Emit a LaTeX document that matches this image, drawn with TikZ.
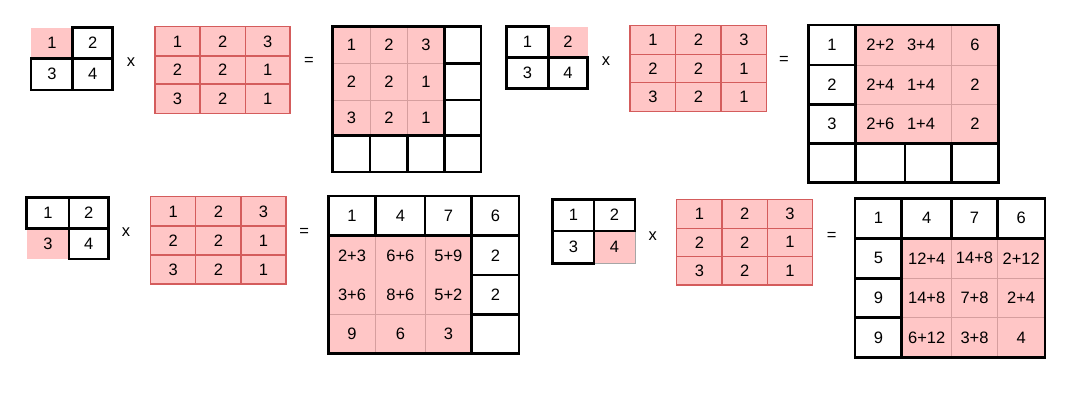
\documentclass[tikz,border=0pt]{standalone}
\usepackage{fontspec}
\setmainfont{Liberation Sans}
\definecolor{pinkfill}{RGB}{255,198,198}
\definecolor{redline}{RGB}{212,92,92}
\definecolor{pinkgrid}{RGB}{214,158,158}
\newcommand{\mkcell}[7]{%
  \node[#2, minimum width={(#4)-(#3)}, minimum height={(#6)-(#5)}] (#1) at ({((#3)+(#4))/2},{((#5)+(#6))/2}) {#7};}
\tikzset{
  base/.style={rectangle, inner sep=0pt, outer sep=0pt, font=\fontsize{16.5}{19}\selectfont, text=black},
  wcell/.style={base, draw=black, line width=2.5pt, fill=white},
  scellp/.style={base, fill=pinkfill},
  rcell/.style={base, fill=pinkfill, draw=redline, line width=1.2pt},
  ecell/.style={base, fill=pinkfill},
  pgrid/.style={draw=pinkgrid, line width=0.8pt},
  frame/.style={draw=black, line width=2.5pt},
  op/.style={base}
}
\begin{document}
\begin{tikzpicture}[x=1pt,y=-1pt]
\useasboundingbox (0,0) rectangle (1075,408);
% ================= Panel A =================
\mkcell{sA11}{scellp}{31}{72.7}{27.7}{58.3}{1}
\mkcell{sA12}{wcell}{72.7}{112.7}{27.7}{58.3}{2}
\mkcell{sA21}{wcell}{31}{72.7}{58.3}{90}{3}
\mkcell{sA22}{wcell}{72.7}{112.7}{58.3}{90}{4}
\node[op] (xA) at (131,61.7) {x};
\mkcell{mA11}{rcell}{155}{200}{26.7}{56}{1}
\mkcell{mA12}{rcell}{200}{245.3}{26.7}{56}{2}
\mkcell{mA13}{rcell}{245.3}{290}{26.7}{56}{3}
\mkcell{mA21}{rcell}{155}{200}{56}{84}{2}
\mkcell{mA22}{rcell}{200}{245.3}{56}{84}{2}
\mkcell{mA23}{rcell}{245.3}{290}{56}{84}{1}
\mkcell{mA31}{rcell}{155}{200}{84}{113.3}{3}
\mkcell{mA32}{rcell}{200}{245.3}{84}{113.3}{2}
\mkcell{mA33}{rcell}{245.3}{290}{84}{113.3}{1}
\node[op] (eA) at (309,61.7) {=};
\mkcell{rA11}{ecell}{332.7}{370}{26.7}{63.3}{1}
\mkcell{rA12}{ecell}{370}{407.7}{26.7}{63.3}{2}
\mkcell{rA13}{ecell}{407.7}{444.3}{26.7}{63.3}{3}
\mkcell{rA21}{ecell}{332.7}{370}{63.3}{100}{2}
\mkcell{rA22}{ecell}{370}{407.7}{63.3}{100}{2}
\mkcell{rA23}{ecell}{407.7}{444.3}{63.3}{100}{1}
\mkcell{rA31}{ecell}{332.7}{370}{100}{135.7}{3}
\mkcell{rA32}{ecell}{370}{407.7}{100}{135.7}{2}
\mkcell{rA33}{ecell}{407.7}{444.3}{100}{135.7}{1}
\draw[pgrid] (rA11.north east) -- (rA31.south east);
\draw[pgrid] (rA12.north east) -- (rA32.south east);
\draw[pgrid] (rA11.south west) -- (rA13.south east);
\draw[pgrid] (rA21.south west) -- (rA23.south east);
\mkcell{rA14}{wcell}{444.3}{481}{26.7}{63.3}{}
\mkcell{rA24}{wcell}{444.3}{481}{63.3}{100}{}
\mkcell{rA34}{wcell}{444.3}{481}{100}{135.7}{}
\mkcell{rA41}{wcell}{332.7}{370}{135.7}{172}{}
\mkcell{rA42}{wcell}{370}{407.7}{135.7}{172}{}
\mkcell{rA43}{wcell}{407.7}{444.3}{135.7}{172}{}
\mkcell{rA44}{wcell}{444.3}{481}{135.7}{172}{}
\draw[frame] (rA11.north west) rectangle (rA44.south east);
% ================= Panel B =================
\mkcell{sB12}{scellp}{548.3}{587.7}{26.7}{57.3}{2}
\mkcell{sB11}{wcell}{506.7}{548.3}{26.7}{57.3}{1}
\mkcell{sB21}{wcell}{506.7}{548.3}{57.3}{88.3}{3}
\mkcell{sB22}{wcell}{548.3}{587.7}{57.3}{88.3}{4}
\node[op] (xB) at (606,60.7) {x};
\mkcell{mB11}{rcell}{630}{675.7}{25.7}{54.3}{1}
\mkcell{mB12}{rcell}{675.7}{721}{25.7}{54.3}{2}
\mkcell{mB13}{rcell}{721}{766.7}{25.7}{54.3}{3}
\mkcell{mB21}{rcell}{630}{675.7}{54.3}{82.7}{2}
\mkcell{mB22}{rcell}{675.7}{721}{54.3}{82.7}{2}
\mkcell{mB23}{rcell}{721}{766.7}{54.3}{82.7}{1}
\mkcell{mB31}{rcell}{630}{675.7}{82.7}{111.7}{3}
\mkcell{mB32}{rcell}{675.7}{721}{82.7}{111.7}{2}
\mkcell{mB33}{rcell}{721}{766.7}{82.7}{111.7}{1}
\node[op] (eB) at (784,60.3) {=};
\mkcell{rB12}{ecell}{855.7}{905}{25}{65}{2+2}
\mkcell{rB13}{ecell, text width=46.7pt, align=left}{905}{951.7}{25}{65}{\hspace*{2pt}3+4}
\mkcell{rB14}{ecell}{951.7}{998.3}{25}{65}{6}
\mkcell{rB22}{ecell}{855.7}{905}{65}{104.3}{2+4}
\mkcell{rB23}{ecell, text width=46.7pt, align=left}{905}{951.7}{65}{104.3}{\hspace*{2pt}1+4}
\mkcell{rB24}{ecell}{951.7}{998.3}{65}{104.3}{2}
\mkcell{rB32}{ecell}{855.7}{905}{104.3}{143.3}{2+6}
\mkcell{rB33}{ecell, text width=46.7pt, align=left}{905}{951.7}{104.3}{143.3}{\hspace*{2pt}1+4}
\mkcell{rB34}{ecell}{951.7}{998.3}{104.3}{143.3}{2}
\draw[pgrid] (rB12.south west) -- (rB14.south east);
\draw[pgrid] (rB22.south west) -- (rB24.south east);
\draw[pgrid] (rB13.north east) -- (rB33.south east);
\mkcell{rB11}{wcell}{808.3}{855.7}{25}{65}{1}
\mkcell{rB21}{wcell}{808.3}{855.7}{65}{104.3}{2}
\mkcell{rB31}{wcell}{808.3}{855.7}{104.3}{143.3}{3}
\mkcell{rB41}{wcell}{808.3}{855.7}{143.3}{182.7}{}
\mkcell{rB42}{wcell}{855.7}{905}{143.3}{182.7}{}
\mkcell{rB43}{wcell}{905}{951.7}{143.3}{182.7}{}
\mkcell{rB44}{wcell}{951.7}{998.3}{143.3}{182.7}{}
\draw[frame] (rB11.north west) rectangle (rB44.south east);
% ================= Panel C =================
\mkcell{sC21}{scellp}{26.7}{69}{228.3}{259}{3}
\mkcell{sC11}{wcell}{26.7}{69}{197.7}{228.3}{1}
\mkcell{sC12}{wcell}{69}{108.3}{197.7}{228.3}{2}
\mkcell{sC22}{wcell}{69}{108.3}{228.3}{259}{4}
\node[op] (xC) at (126,231.7) {x};
\mkcell{mC11}{rcell}{150.7}{195.7}{196.7}{226}{1}
\mkcell{mC12}{rcell}{195.7}{241}{196.7}{226}{2}
\mkcell{mC13}{rcell}{241}{286}{196.7}{226}{3}
\mkcell{mC21}{rcell}{150.7}{195.7}{226}{255}{2}
\mkcell{mC22}{rcell}{195.7}{241}{226}{255}{2}
\mkcell{mC23}{rcell}{241}{286}{226}{255}{1}
\mkcell{mC31}{rcell}{150.7}{195.7}{255}{284}{3}
\mkcell{mC32}{rcell}{195.7}{241}{255}{284}{2}
\mkcell{mC33}{rcell}{241}{286}{255}{284}{1}
\node[op] (eC) at (304.3,232.7) {=};
\mkcell{rC21}{ecell}{328.3}{375.7}{235.7}{275}{2+3}
\mkcell{rC22}{ecell}{375.7}{425}{235.7}{275}{6+6}
\mkcell{rC23}{ecell}{425}{471.7}{235.7}{275}{5+9}
\mkcell{rC31}{ecell}{328.3}{375.7}{275}{314.3}{3+6}
\mkcell{rC32}{ecell}{375.7}{425}{275}{314.3}{8+6}
\mkcell{rC33}{ecell}{425}{471.7}{275}{314.3}{5+2}
\mkcell{rC41}{ecell}{328.3}{375.7}{314.3}{353.3}{9}
\mkcell{rC42}{ecell}{375.7}{425}{314.3}{353.3}{6}
\mkcell{rC43}{ecell}{425}{471.7}{314.3}{353.3}{3}
\draw[pgrid] (rC21.north east) -- (rC41.south east);
\draw[pgrid] (rC22.north east) -- (rC42.south east);
\draw[pgrid] (rC31.south west) -- (rC33.south east);
\mkcell{rC11}{wcell}{328.3}{375.7}{196}{235.7}{1}
\mkcell{rC12}{wcell}{375.7}{425}{196}{235.7}{4}
\mkcell{rC13}{wcell}{425}{471.7}{196}{235.7}{7}
\mkcell{rC14}{wcell}{471.7}{519}{196}{235.7}{6}
\mkcell{rC24}{wcell}{471.7}{519}{235.7}{275}{2}
\mkcell{rC34}{wcell}{471.7}{519}{275}{314.3}{2}
\mkcell{rC44}{wcell}{471.7}{519}{314.3}{353.3}{}
\draw[frame] (rC11.north west) rectangle (rC44.south east);
% ================= Panel D =================
\mkcell{sD22}{scellp, draw=gray!70, line width=0.8pt}{594}{635}{231}{263.3}{4}
\mkcell{sD11}{wcell}{552.7}{594}{199.3}{231}{1}
\mkcell{sD12}{wcell}{594}{635}{199.3}{231}{2}
\mkcell{sD21}{wcell}{552.7}{594}{231}{263.3}{3}
\node[op] (xD) at (652.7,236) {x};
\mkcell{mD11}{rcell}{676.7}{722}{199.3}{228.3}{1}
\mkcell{mD12}{rcell}{722}{767.3}{199.3}{228.3}{2}
\mkcell{mD13}{rcell}{767.3}{812.7}{199.3}{228.3}{3}
\mkcell{mD21}{rcell}{676.7}{722}{228.3}{256.3}{2}
\mkcell{mD22}{rcell}{722}{767.3}{228.3}{256.3}{2}
\mkcell{mD23}{rcell}{767.3}{812.7}{228.3}{256.3}{1}
\mkcell{mD31}{rcell}{676.7}{722}{256.3}{285}{3}
\mkcell{mD32}{rcell}{722}{767.3}{256.3}{285}{2}
\mkcell{mD33}{rcell}{767.3}{812.7}{256.3}{285}{1}
\node[op] (eD) at (831.7,236.7) {=};
\mkcell{rD22}{ecell}{901.7}{951.7}{238.3}{278.3}{12+4}
\mkcell{rD23}{ecell}{951.7}{997.3}{238.3}{278.3}{14+8}
\mkcell{rD24}{ecell}{997.3}{1045}{238.3}{278.3}{2+12}
\mkcell{rD32}{ecell}{901.7}{951.7}{278.3}{317.7}{14+8}
\mkcell{rD33}{ecell}{951.7}{997.3}{278.3}{317.7}{7+8}
\mkcell{rD34}{ecell}{997.3}{1045}{278.3}{317.7}{2+4}
\mkcell{rD42}{ecell}{901.7}{951.7}{317.7}{357.3}{6+12}
\mkcell{rD43}{ecell}{951.7}{997.3}{317.7}{357.3}{3+8}
\mkcell{rD44}{ecell}{997.3}{1045}{317.7}{357.3}{4}
\draw[pgrid] (rD22.north east) -- (rD42.south east);
\draw[pgrid] (rD23.north east) -- (rD43.south east);
\draw[pgrid] (rD22.south west) -- (rD24.south east);
\draw[pgrid] (rD32.south west) -- (rD34.south east);
\mkcell{rD11}{wcell}{855}{901.7}{198.3}{238.3}{1}
\mkcell{rD12}{wcell}{901.7}{951.7}{198.3}{238.3}{4}
\mkcell{rD13}{wcell}{951.7}{997.3}{198.3}{238.3}{7}
\mkcell{rD14}{wcell}{997.3}{1045}{198.3}{238.3}{6}
\mkcell{rD21}{wcell}{855}{901.7}{238.3}{278.3}{5}
\mkcell{rD31}{wcell}{855}{901.7}{278.3}{317.7}{9}
\mkcell{rD41}{wcell}{855}{901.7}{317.7}{357.3}{9}
\draw[frame] (rD11.north west) rectangle (rD44.south east);
\end{tikzpicture}
\end{document}
